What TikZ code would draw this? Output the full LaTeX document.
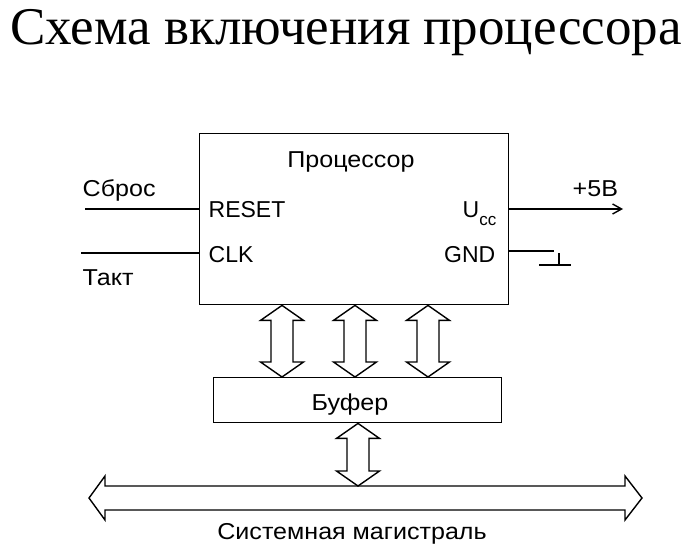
\documentclass[tikz,border=0pt]{standalone}
\usepackage{fontspec}
\setmainfont{Liberation Sans}
\newfontfamily\titlefont{Liberation Serif}
\newfontfamily\widefont[FakeStretch=1.09]{Liberation Sans}
\usetikzlibrary{positioning, calc, arrows.meta}

% hollow two-headed arrow, from #1 (top) down to #2 (bottom)
\newcommand{\dblarrow}[2]{%
  \draw[hollow] (#1) -- ($(#1)+(21.5,15)$) -- ($(#1)+(11,15)$)
    -- ($(#2)+(11,-15)$) -- ($(#2)+(21.5,-15)$) -- (#2)
    -- ($(#2)+(-21.5,-15)$) -- ($(#2)+(-11,-15)$)
    -- ($(#1)+(-11,15)$) -- ($(#1)+(-21.5,15)$) -- cycle;}

\begin{document}
\begin{tikzpicture}[x=1pt, y=-1pt, line width=1.4pt,
    box/.style={draw, rectangle, inner sep=0pt},
    lbl/.style={inner sep=0pt, font=\fontsize{23}{23}\selectfont},
    cyr/.style={lbl, font=\widefont\fontsize{23}{23}\selectfont},
    hollow/.style={draw, fill=white, line width=1.4pt, line join=miter}]
\useasboundingbox (0,0) rectangle (700,548);
% Title
\node[anchor=base, inner sep=0pt, font=\titlefont\fontsize{53}{53}\selectfont] (title) at (346,45) {Схема включения процессора};

% Processor and buffer
\node[box, minimum width=309pt, minimum height=171pt, anchor=north west] (cpu) at (199,133) {};
\node[cyr, anchor=base] (cpuname) at (351,167) {Процессор};
\node[box, minimum width=288pt, minimum height=45pt, anchor=north west] (buf) at (213,377) {};
\node[cyr, anchor=base] (bufname) at (350,410) {Буфер};

% Inputs (left)
\node[lbl, anchor=base west] (reset) at (208,217) {RESET};
\node[lbl, anchor=base west] (clk) at (208,262) {CLK};
\node[cyr, anchor=base west] (sbros) at (82,196) {Сброс};
\node[cyr, anchor=base west] (takt) at (82,285) {Такт};
\coordinate (rstin) at (85,209);
\coordinate (clkin) at (81,253);
\draw (rstin) -- (rstin -| cpu.west);
\draw (clkin) -- (clkin -| cpu.west);

% Power (right)
\node[lbl, anchor=base east] (ucc) at (497,217) {U\raisebox{-8pt}{\fontsize{17}{17}\selectfont cc}};
\node[lbl, anchor=base east] (gnd) at (496,262) {GND};
\node[cyr, anchor=base west] (plus5) at (572,196) {+5В};
\coordinate (vout) at (623,209);
\coordinate (gndout) at (554,251);
\draw[-{Straight Barb[length=9pt,width=10pt]}] (vout -| cpu.east) -- (vout);
\draw (gndout -| cpu.east) -- (gndout);
\draw ($(gndout)+(5,2)$) -- ++(0,12) ++(-20,0) -- ++(32,0);

% Processor <-> buffer
\foreach \dx [count=\i] in {83,156,229} {
  \coordinate (up\i) at ($(cpu.south west)+(\dx,0)$);
  \coordinate (dn\i) at (buf.north -| up\i);
  \dblarrow{up\i}{dn\i}
}

% System bus
\coordinate (busL) at (89,498);
\coordinate (busR) at (642,498);
\draw[hollow] (busL) -- ++(16,-22) -- ++(0,10) -- ($(busR)+(-17,-12)$) -- ++(0,-10) -- (busR)
  -- ++(-17,22) -- ++(0,-10) -- ($(busL)+(16,12)$) -- ++(0,10) -- cycle;
\node[cyr, anchor=base] (busname) at (352,539) {Системная магистраль};

% Buffer <-> bus
\coordinate (bustop) at (358,486);
\dblarrow{buf.south -| bustop}{bustop}
\end{tikzpicture}
\end{document}
